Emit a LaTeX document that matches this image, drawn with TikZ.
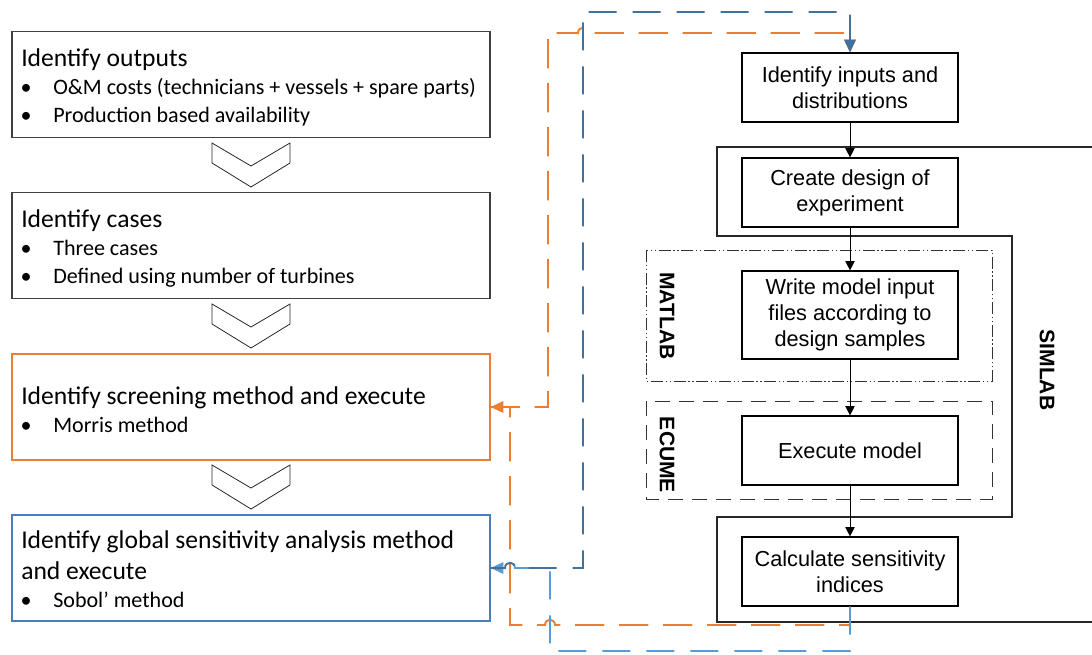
\documentclass[tikz,border=0pt]{standalone}
\usepackage{fontspec}
\setmainfont{Carlito}
\newfontfamily\arialf{Liberation Sans}
\usetikzlibrary{arrows.meta}
\definecolor{orng}{HTML}{ED7D31}
\definecolor{bluedk}{HTML}{41719C}
\definecolor{bluelt}{HTML}{5B9BD5}
\definecolor{boxblue}{HTML}{4A7EBB}
\begin{document}
\begin{tikzpicture}[x=0.75pt,y=-0.75pt,
  leftbox/.style={draw=black!75, line width=0.9pt, minimum width=358.5pt, minimum height=79.5pt, inner sep=0pt},
  stepbox/.style={draw=black, line width=0.9pt, minimum width=162pt, minimum height=51.75pt, inner sep=0pt, align=center, font=\arialf\fontsize{16.3}{19.5}\selectfont},
  ttl/.style={anchor=base west, inner sep=0pt, font=\fontsize{19.2}{22}\selectfont},
  itm/.style={anchor=base west, inner sep=0pt, font=\fontsize{16.55}{20}\selectfont},
  bul/.style={anchor=base, inner sep=0pt, font=\fontsize{16.55}{20}\selectfont},
  tool/.style={inner sep=0pt, rotate=-90, font=\arialf\bfseries\fontsize{15.8}{18}\selectfont},
  chev/.style={draw=black!85, line width=0.6pt},
  flow/.style={-{Triangle[length=7pt,width=7pt]}, line width=0.75pt},
  orngline/.style={draw=orng, line width=1.4pt, dash pattern=on 22pt off 11pt},
  bluedkline/.style={draw=bluedk, line width=1.4pt, dash pattern=on 21pt off 12pt},
  bluelline/.style={draw=bluelt, line width=1.4pt, dash pattern=on 21pt off 12pt},
  otip/.style={-{Triangle[length=9.5pt,width=8.5pt]}},
]
\useasboundingbox (0,0) rectangle (1092,654);

% ---- left column: process steps ----
\node[leftbox] (outs) at (251,84.5) {};
\node[ttl] (outsT) at (21,66) {Identify outputs};
\node[bul] (outsB1) at (26,94) {\textbullet};
\node[itm] (outsI1) at (53,94) {O\&M costs (technicians + vessels + spare parts)};
\node[bul] (outsB2) at (26,122) {\textbullet};
\node[itm] (outsI2) at (53,122) {Production based availability};

\node[leftbox] (cases) at (251,245.5) {};
\node[ttl] (casesT) at (21,227) {Identify cases};
\node[bul] (casesB1) at (26,255) {\textbullet};
\node[itm] (casesI1) at (53,255) {Three cases};
\node[bul] (casesB2) at (26,283) {\textbullet};
\node[itm] (casesI2) at (53,283) {Defined using number of turbines};

\node[leftbox, draw=orng] (screen) at (251,407) {};
\node[ttl] (screenT) at (21,404) {Identify screening method and execute};
\node[bul] (screenB1) at (26,432) {\textbullet};
\node[itm] (screenI1) at (53,432) {Morris method};

\node[leftbox, draw=boxblue] (gsa) at (251,568) {};
\node[ttl] (gsaT1) at (21,548) {Identify global sensitivity analysis method};
\node[ttl] (gsaT2) at (21,579) {and execute};
\node[bul] (gsaB1) at (26,607) {\textbullet};
\node[itm] (gsaI1) at (53,607) {Sobol’ method};

% chevrons between the steps
\foreach \dy in {0,161,322}{
  \draw[chev, shift={(0,\dy)}] (212,143) -- (251,166) -- (290,143) -- (290,163) -- (251,187) -- (212,163) -- cycle;
}

% ---- right column: SIMLAB workflow ----
\draw[line width=0.9pt, black!85] (1096,147) -- (717,147) -- (717,236) -- (1012,236) -- (1012,517) -- (717,517) -- (717,622) -- (1096,622);
\node[tool] (simlab) at (1047,370) {SIMLAB};

\draw[line width=0.7pt, black!80, dash pattern=on 9pt off 2pt on 1pt off 2pt on 1pt off 2pt] (646,250) rectangle (992,381);
\node[tool] (matlab) at (667,316) {MATLAB};
\draw[line width=0.7pt, black!80, dash pattern=on 11pt off 7pt] (646,401) rectangle (992,499);
\node[tool] (ecume) at (667,455) {ECUME};

\node[stepbox] (inputs) at (850,87.5) {Identify inputs and\\distributions};
\node[stepbox] (doe) at (850,192.5) {Create design of\\experiment};
\node[stepbox, minimum height=66pt] (write) at (850,315) {Write model input\\files according to\\design samples};
\node[stepbox] (exec) at (850,450.5) {Execute model};
\node[stepbox] (calc) at (850,571.5) {Calculate sensitivity\\indices};

\draw[flow] (inputs) -- (doe);
\draw[flow] (doe) -- (write);
\draw[flow] (write) -- (exec);
\draw[flow] (exec) -- (calc);

% ---- feedback loops ----
% screening step back to the inputs
\draw[orngline, otip] (screen.east) -- (548,407) -- (548,33) -- (578,33)
  .. controls (578,26) and (588,26) .. (588,33) -- (850,33) -- (inputs.north);
% sensitivity indices back to the screening step
\draw[orngline, otip] (calc.south) -- (850,625) -- (555,625)
  .. controls (555,618) and (545,618) .. (545,625) -- (510,625) -- (510,407) -- (screen.east);
% sensitivity indices to the global analysis step
\draw[bluelline, otip] (calc.south) -- (850,651) -- (550,651) -- (550,568) -- (515,568)
  .. controls (515,561) and (505,561) .. (505,568) -- (gsa.east);
% global analysis step back to the inputs
\draw[bluedkline, otip] (gsa.east) -- (505,568) .. controls (505,561) and (515,561) .. (515,568)
  -- (583,568) -- (583,12) -- (850,12) -- (inputs.north);
\end{tikzpicture}
\end{document}
